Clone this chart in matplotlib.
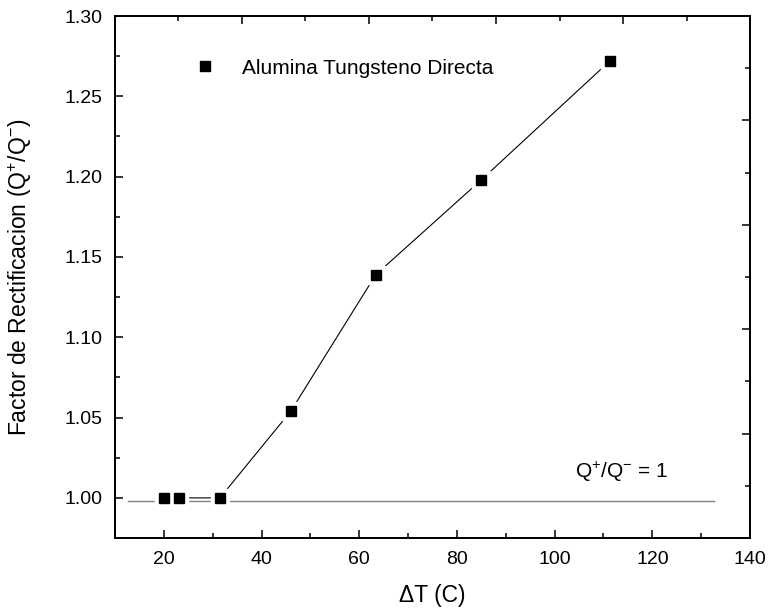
import matplotlib
matplotlib.use("Agg")
import matplotlib.pyplot as plt
from matplotlib.ticker import MultipleLocator, FormatStrFormatter

plt.rcParams["font.family"] = ["Liberation Sans", "DejaVu Sans"]
plt.rcParams["mathtext.fontset"] = "custom"
plt.rcParams["mathtext.rm"] = "Liberation Sans"
plt.rcParams["mathtext.it"] = "Liberation Sans:italic"

# Measured rectification factor vs temperature difference
dT = [20.0, 23.1, 31.5, 46.0, 63.4, 85.0, 111.3]
factor = [1.000, 1.000, 1.000, 1.054, 1.139, 1.198, 1.272]

# Reference level Q+/Q- = 1
ref_x = [12.7, 132.6]
ref_y = [0.998, 0.998]

fig = plt.figure(figsize=(7.68, 6.16), dpi=100)
ax = fig.add_axes([0.1497, 0.1266, 0.8269, 0.8474])

ax.plot(ref_x, ref_y, color="#808080", lw=1.0, zorder=1)
ax.plot(dT, factor, color="black", lw=0.8, zorder=2)
# white halo leaves a small gap between line and marker
ax.plot(dT, factor, ls="none", marker="s", ms=12.5, mfc="white", mec="white", zorder=3)
ax.plot(dT, factor, ls="none", marker="s", ms=7.3, mfc="black", mec="black",
        zorder=4, label="Alumina Tungsteno Directa")

ax.set_xlim(10, 140)
ax.set_ylim(0.975, 1.30)
ax.xaxis.set_major_locator(MultipleLocator(20))
ax.xaxis.set_minor_locator(MultipleLocator(10))
ax.yaxis.set_major_locator(MultipleLocator(0.05))
ax.yaxis.set_minor_locator(MultipleLocator(0.025))
ax.yaxis.set_major_formatter(FormatStrFormatter("%.2f"))

ax.set_xlabel("ΔT (C)", fontsize=16.5, labelpad=12)
ax.set_ylabel(r"Factor de Rectificacion (Q$^{+}$/Q$^{\mathrm{-}}$)", fontsize=16.5, labelpad=22)

ax.text(104.2, 1.016, r"Q$^{+}$/Q$^{\mathrm{-}}$ = 1", fontsize=15, va="center")

ax.legend(loc="center left", bbox_to_anchor=(0.088, 0.9), frameon=False,
          numpoints=1, handlelength=1.5, handletextpad=1.0, fontsize=15)

ax.tick_params(which="both", direction="in", labelsize=14, width=1.1)
ax.tick_params(which="major", length=6, pad=9)
ax.tick_params(which="minor", length=3.5)

# independent top/right axes with their own tick spacing
top = ax.twiny()
right = ax.twinx()
top.set_xlim(0, 10)
right.set_ylim(0, 10)
top.xaxis.set_major_locator(MultipleLocator(2))
top.xaxis.set_minor_locator(MultipleLocator(1))
right.yaxis.set_major_locator(MultipleLocator(2))
right.yaxis.set_minor_locator(MultipleLocator(1))
top.tick_params(axis="x", which="both", direction="in", labeltop=False, width=1.1)
top.tick_params(axis="x", which="major", length=6)
top.tick_params(axis="x", which="minor", length=3.5)
right.tick_params(axis="y", which="both", direction="in", labelright=False, width=1.1)
right.tick_params(axis="y", which="major", length=6)
right.tick_params(axis="y", which="minor", length=3.5)

for a in (ax, top, right):
    for s in a.spines.values():
        s.set_linewidth(1.2)

fig.savefig("out.png", dpi=100)
